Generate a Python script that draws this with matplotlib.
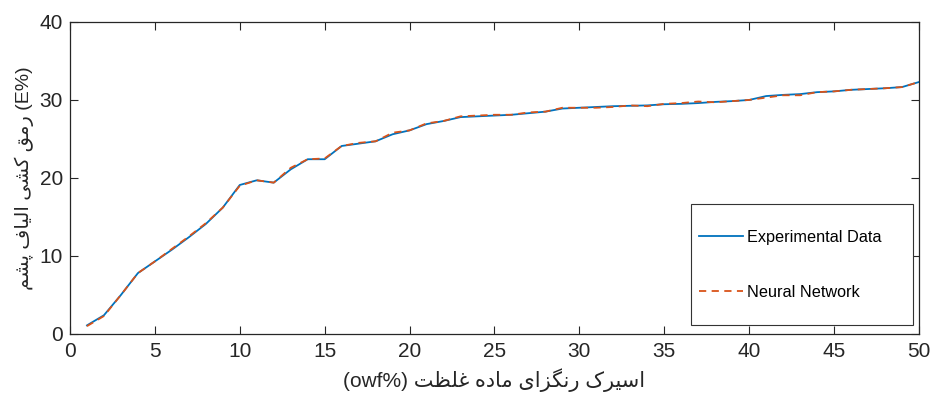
import matplotlib
matplotlib.use("Agg")
import matplotlib.pyplot as plt
from matplotlib.patches import Rectangle

# dye concentration (owf%) and wool exhaustion (E%)
conc = list(range(1, 51))
experimental = [1.1, 2.4, 5.0, 7.8, 9.3, 10.8, 12.4, 14.1, 16.2, 19.1,
                19.7, 19.4, 21.1, 22.4, 22.4, 24.1, 24.4, 24.7, 25.6, 26.1,
                26.9, 27.3, 27.8, 27.9, 28.0, 28.1, 28.3, 28.5, 28.9, 29.0,
                29.1, 29.2, 29.25, 29.3, 29.45, 29.5, 29.6, 29.75, 29.85, 30.0,
                30.5, 30.65, 30.75, 31.0, 31.1, 31.3, 31.4, 31.5, 31.65, 32.3]
neural = [1.0, 2.3, 5.0, 7.8, 9.3, 10.9, 12.5, 14.2, 16.2, 19.0,
          19.7, 19.4, 21.3, 22.4, 22.5, 24.1, 24.5, 24.7, 25.8, 26.1,
          27.0, 27.3, 27.9, 28.0, 28.1, 28.1, 28.4, 28.5, 29.0, 29.0,
          29.0, 29.1, 29.3, 29.2, 29.5, 29.6, 29.8, 29.7, 29.85, 30.0,
          30.3, 30.6, 30.6, 31.0, 31.1, 31.3, 31.4, 31.5, 31.65, 32.3]
x_ticks = [0, 5, 10, 15, 20, 25, 30, 35, 40, 45, 50]
y_ticks = [0, 10, 20, 30, 40]

# --- minimal Persian shaping (no bidi libs available) ---
FORMS = {  # isolated, final, initial, medial
    "\u0627": ("\uFE8D", "\uFE8E", None, None),
    "\u062A": ("\uFE95", "\uFE96", "\uFE97", "\uFE98"),
    "\u062F": ("\uFEA9", "\uFEAA", None, None),
    "\u0631": ("\uFEAD", "\uFEAE", None, None),
    "\u0632": ("\uFEAF", "\uFEB0", None, None),
    "\u0633": ("\uFEB1", "\uFEB2", "\uFEB3", "\uFEB4"),
    "\u0634": ("\uFEB5", "\uFEB6", "\uFEB7", "\uFEB8"),
    "\u0638": ("\uFEC5", "\uFEC6", "\uFEC7", "\uFEC8"),
    "\u063A": ("\uFECD", "\uFECE", "\uFECF", "\uFED0"),
    "\u0641": ("\uFED1", "\uFED2", "\uFED3", "\uFED4"),
    "\u0642": ("\uFED5", "\uFED6", "\uFED7", "\uFED8"),
    "\u0644": ("\uFEDD", "\uFEDE", "\uFEDF", "\uFEE0"),
    "\u0645": ("\uFEE1", "\uFEE2", "\uFEE3", "\uFEE4"),
    "\u0646": ("\uFEE5", "\uFEE6", "\uFEE7", "\uFEE8"),
    "\u0647": ("\uFEE9", "\uFEEA", "\uFEEB", "\uFEEC"),
    "\u067E": ("\uFB56", "\uFB57", "\uFB58", "\uFB59"),
    "\u06A9": ("\uFB8E", "\uFB8F", "\uFB90", "\uFB91"),
    "\u06AF": ("\uFB92", "\uFB93", "\uFB94", "\uFB95"),
    "\u06CC": ("\uFBFC", "\uFBFD", "\uFBFE", "\uFBFF"),
}


def dual(ch):
    return ch in FORMS and FORMS[ch][2] is not None


def shape_word(word):
    out = []
    for i, ch in enumerate(word):
        if ch not in FORMS:
            out.append(ch)
            continue
        prev_joins = i > 0 and dual(word[i - 1])
        next_joins = dual(ch) and i + 1 < len(word) and word[i + 1] in FORMS
        iso, fin, ini, med = FORMS[ch]
        if prev_joins and next_joins:
            out.append(med)
        elif prev_joins:
            out.append(fin)
        elif next_joins:
            out.append(ini)
        else:
            out.append(iso)
    return "".join(reversed(out))


xlabel = "(owf%) " + " ".join(shape_word(w) for w in ["غلظت", "ماده", "رنگزای", "اسیرک"])
ylabel = " ".join(shape_word(w) for w in ["پشم", "الیاف", "کشی", "رمق"]) + " (E%)"

plt.rcParams["font.family"] = ["Liberation Sans", "DejaVu Sans"]
ink = "#262626"

fig = plt.figure(figsize=(9.33, 3.99), dpi=100)
ax = fig.add_axes([0.075, 0.163, 0.910, 0.782])

ax.plot(conc, experimental, color="#0072BD", lw=1.3, label="Experimental Data")
ax.plot(conc, neural, color="#D95319", lw=1.3, ls=(0, (4, 3)), label="Neural Network")

ax.set_xlim(0, 50)
ax.set_ylim(0, 40)
ax.set_xticks(x_ticks)
ax.set_yticks(y_ticks)
ax.tick_params(direction="in", top=True, right=True, length=6, width=0.8,
               colors=ink, labelsize=15, labelcolor=ink)
ax.tick_params(axis="x", pad=6)
ax.tick_params(axis="y", pad=5)
for s in ax.spines.values():
    s.set_color(ink)
    s.set_linewidth(0.9)

ax.set_xlabel(xlabel, fontsize=15, color=ink, labelpad=5)
ax.set_ylabel(ylabel, fontsize=14, color=ink, labelpad=4)

# legend box: MATLAB-style large frame with entries on the left
ax.add_patch(Rectangle((0.731, 0.029), 0.262, 0.387, transform=ax.transAxes,
                       facecolor="white", edgecolor="#333333", lw=0.8, zorder=4))
ax.legend(loc="center left", bbox_to_anchor=(0.741, 0.222), frameon=False,
          fontsize=11.7, handlelength=2.7, handletextpad=0.25, labelspacing=2.45,
          borderpad=0, borderaxespad=0).set_zorder(5)

fig.savefig("out.png", dpi=100)
